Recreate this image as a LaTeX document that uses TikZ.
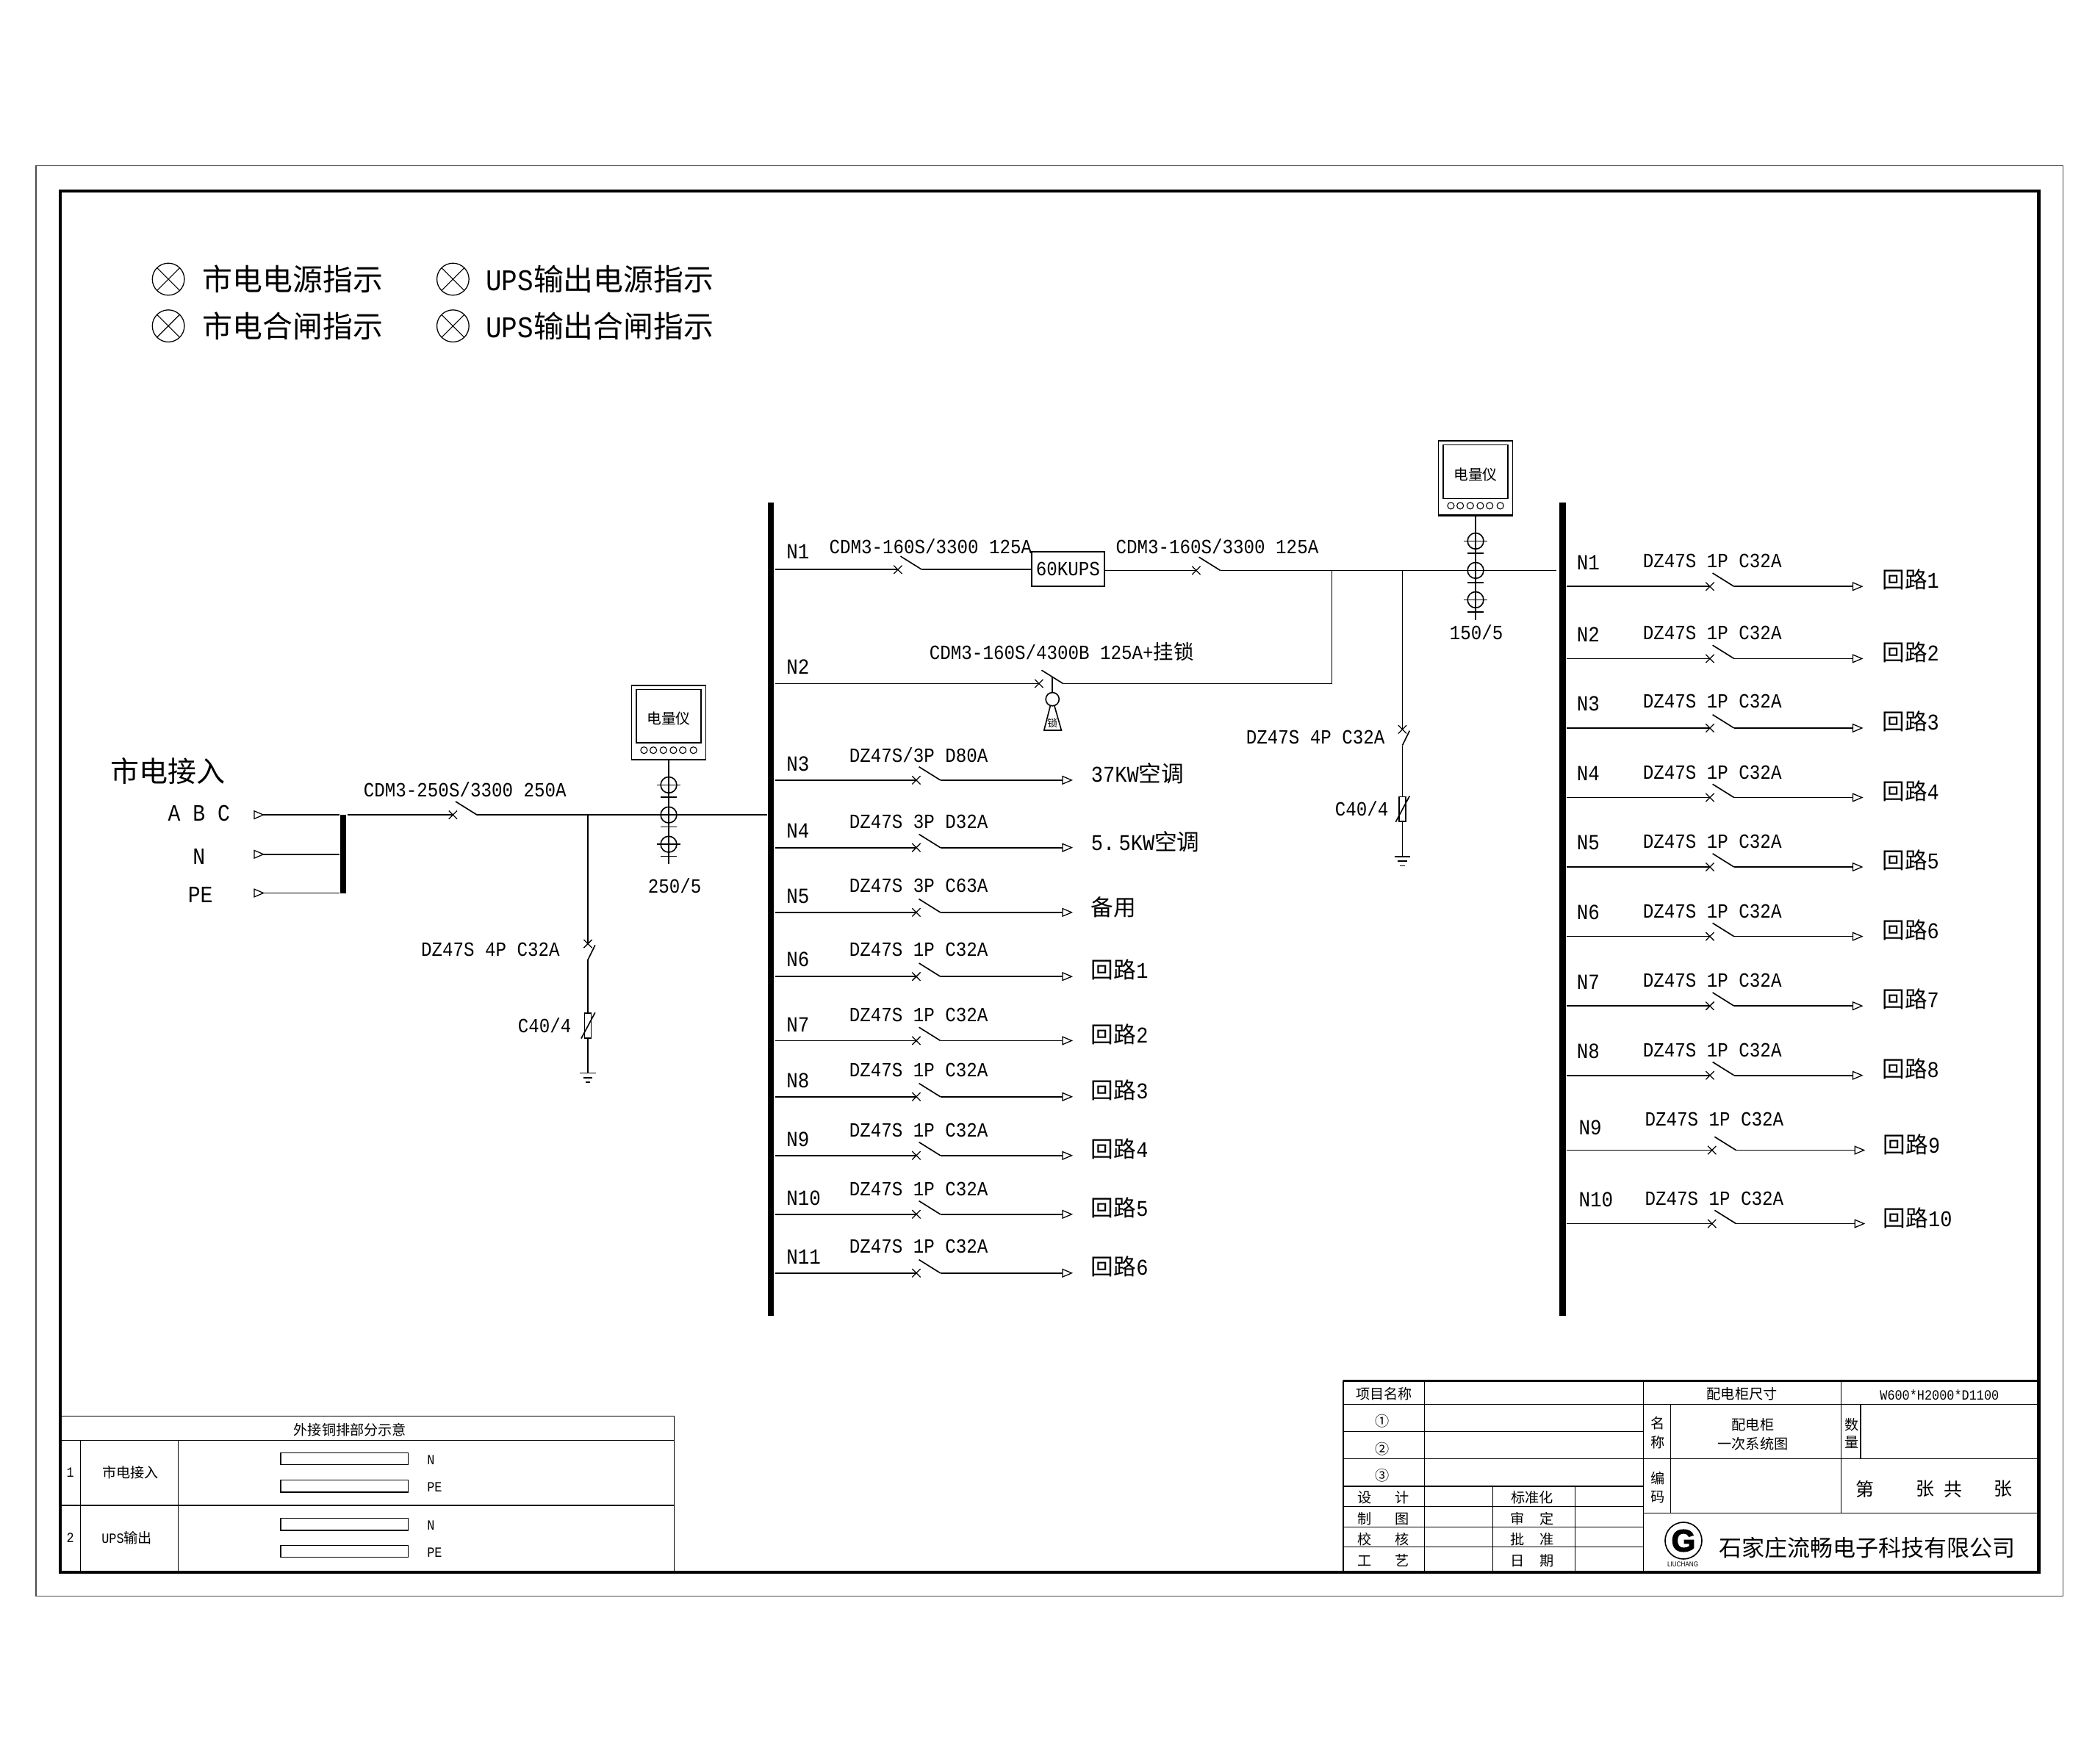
\documentclass[tikz,border=0pt]{standalone}
\usepackage{fontspec}
\usetikzlibrary{arrows.meta,calc,shapes.misc}
\newfontfamily\cjk{Noto Sans CJK SC}
\newfontfamily\cad[FakeStretch=0.88]{Liberation Mono}
\newfontfamily\logofont[BoldFeatures={FakeBold=3}]{Liberation Sans}
\newfontfamily\logosmall[FakeStretch=0.85]{Liberation Sans}

\tikzset{
  wire/.style={line width=0.09mm},
  frameline/.style={line width=0.08mm},
  brkmark/.style={cross out,draw,line width=0.07mm,minimum size=0.55mm,inner sep=0},
  busbar/.style={fill=black,inner sep=0,minimum width=0.45mm},
  feed/.style={wire,-{Triangle[fill=white,length=2.3pt,width=1.9pt,line width=0.07mm]}},
  incoming/.style={wire,{Triangle[reversed,fill=white,length=2.3pt,width=1.9pt,line width=0.07mm]}-},
  spec/.style={anchor=west,xshift=-0.1mm,inner sep=0,font=\fontsize{4.3}{5}\cad},
  busno/.style={anchor=west,xshift=-0.1mm,inner sep=0,font=\fontsize{4.6}{5}\cad},
  outname/.style={anchor=west,xshift=-0.1mm,inner sep=0,font=\fontsize{4.8}{5}\cad},
  legendtxt/.style={anchor=west,xshift=-0.1mm,inner sep=0,font=\fontsize{6.4}{7}\cad},
  lamp/.style={circle,draw,line width=0.07mm,inner sep=0,minimum size=2.4mm,
    path picture={\draw[line width=0.06mm] (path picture bounding box.north west) -- (path picture bounding box.south east)
      (path picture bounding box.north east) -- (path picture bounding box.south west);}},
  tbltxt/.style={inner sep=0,yshift=-0.1mm,font=\fontsize{3}{4}\cad},
}

% switch: cross, blade, coordinate at the end of the blade
\newcommand{\qf}[3]{
  \node[brkmark] (#1) at (#2,#3) {};
  \coordinate (#1e) at ($(#1.center)+(18,0)$);
  \draw[wire] (#1e) -- ++(-16,-10);
}
% meter with screen and six buttons
\newcommand{\mtr}[3]{
  \node[draw,wire,inner sep=0,minimum width=5.55mm,minimum height=5.55mm] (#1) at (#2,#3) {};
  \node[draw,wire,inner sep=0,minimum width=4.85mm,minimum height=4mm] (#1s) at (#2,#3-4.7) {};
  \node[inner sep=0,font=\fontsize{3.1}{4}\cjk] (#1t) at (#2,#3-2.7) {电量仪};
  \foreach \dx [count=\k] in {-18.5,-11.5,-4,3.5,10.5,18.5}
    \node[circle,draw,line width=0.06mm,inner sep=0,minimum size=0.5mm] (#1b\k) at (#2+\dx,#3+20.8) {};
}
% current transformer on the stem
\newcommand{\ctcoil}[3]{
  \node[circle,draw,wire,inner sep=0,minimum size=1.2mm] (#1) at (#2,#3) {};
  \draw[wire] (#2-9,#3) -- (#2+9,#3);
  \draw[wire] (#2-6,#3+9) -- (#2+6,#3+9);
}
% branch with breaker, surge arrester and earth
\newcommand{\spd}[5]{
  \coordinate (#1t) at (#2,#3);
  \node[brkmark] (#1q) at (#2,#4) {};
  \coordinate (#1b) at (#2,#4+12);
  \node[draw,wire,inner sep=0,minimum width=0.5mm,minimum height=1.85mm] (#1r) at (#2,#5) {};
  \coordinate (#1g) at (#2,#5+35.5);
  \draw[wire] (#1t) -- (#1q.center);
  \draw[wire] (#1b) -- ++(5.4,-11);
  \draw[wire] (#1b) -- (#1r.north);
  \draw[wire] (#1r.south) -- (#1g);
  \draw[wire] ($(#1r.north)+(5.4,0)$) -- ($(#1r.south)+(-5,0)$);
  \draw[wire] ($(#1g)+(-6,0)$) -- ($(#1g)+(6,0)$);
  \draw[wire] ($(#1g)+(-3.5,3.5)$) -- ($(#1g)+(3.5,3.5)$);
  \draw[wire] ($(#1g)+(-1.8,7)$) -- ($(#1g)+(1.8,7)$);
}
\newcommand{\hl}[1]{{\cjk 回路}#1}

\begin{document}
\begin{tikzpicture}[x=0.1mm,y=-0.1mm]
  \useasboundingbox (0,0) rectangle (1568,1320.5);

  % frames
  \draw[black!70,line width=0.07mm] (27,124) rectangle (1544,1195);
  \draw[line width=0.25mm] (45,143) rectangle (1526,1177);

  % lamps
  \node[lamp] (lampa) at (126,209) {};
  \node[lamp] (lampb) at (126,244) {};
  \node[lamp] (lampc) at (339,209) {};
  \node[lamp] (lampd) at (339,244) {};
  \node[legendtxt] (txta) at (152,209) {{\cjk 市电电源指示}};
  \node[legendtxt] (txtb) at (152,244) {{\cjk 市电合闸指示}};
  \node[legendtxt] (txtc) at (364,209) {UPS{\cjk 输出电源指示}};
  \node[legendtxt] (txtd) at (364,244) {UPS{\cjk 输出合闸指示}};

  % busbars
  \node[busbar,minimum height=60.9mm] (busL) at (577,680.5) {};
  \node[busbar,minimum height=60.9mm] (busR) at (1169.5,680.5) {};
  \node[busbar,minimum height=5.9mm] (barIn) at (257,639.5) {};

  % incoming side
  \node[anchor=west,inner sep=0,font=\fontsize{6.1}{7}\cjk] (labIn) at (82,577) {市电接入};
  \node[busno,anchor=center,xshift=0.1mm,font=\fontsize{5}{6}\cad] (labA) at (149,609) {A B C};
  \node[busno,anchor=center,xshift=0.1mm,font=\fontsize{5}{6}\cad] (labN) at (149,641) {N};
  \node[busno,anchor=center,xshift=0.1mm,font=\fontsize{5}{6}\cad] (labPE) at (150,670) {PE};
  \coordinate (inA) at (190,610);
  \coordinate (inN) at (190,639.5);
  \coordinate (inPE) at (190,668.5);
  \draw[incoming] (inA) -- (barIn.west |- inA);
  \draw[incoming] (inN) -- (barIn.west |- inN);
  \draw[incoming] (inPE) -- (barIn.west |- inPE);

  \qf{qmain}{339}{610}
  \node[spec] (labMain) at (272.5,591) {CDM3-250S/3300 250A};
  \draw[wire] (barIn.east |- qmain) -- (qmain.center);
  \draw[wire] (qmaine) -- (busL.west |- qmaine);

  \spd{spa}{440}{610}{706.5}{767.7}
  \node[spec] (labSpa) at (315.5,711) {DZ47S 4P C32A};
  \node[spec] (labSpb) at (388,767.5) {C40/4};

  \mtr{mtrA}{500.5}{540.8}
  \coordinate (stemA) at (500.5,646.6);
  \draw[wire] (mtrA.south) -- (stemA);
  \ctcoil{ctAa}{500.5}{587.6}
  \ctcoil{ctAb}{500.5}{610}
  \ctcoil{ctAc}{500.5}{632}
  \node[spec,anchor=center,xshift=0.1mm] (labCtA) at (505,663) {250/5};

  % N1 / N2 of the left bus
  \node[busno] (labL1) at (589,413) {N1};
  \node[busno] (labL2) at (589,499) {N2};
  \qf{qa}{672}{426.4}
  \node[draw,wire,inner sep=0,minimum width=5.46mm,minimum height=2.6mm,font=\fontsize{4.3}{5}\cad] (ups) at (799.3,426) {60KUPS};
  \qf{qb}{895.3}{427}
  \coordinate (Rin) at (1165,427);
  \coordinate (tie) at (996.8,427);
  \qf{qc}{777.6}{511.7}
  \node[spec] (labQa) at (621,409) {CDM3-160S/3300 125A};
  \node[spec] (labQb) at (835.5,409) {CDM3-160S/3300 125A};
  \node[spec] (labQc) at (696,488) {CDM3-160S/4300B 125A+{\cjk 挂锁}};
  \draw[wire] (busL.east |- qa) -- (qa.center);
  \draw[wire] (qae) -- (ups.west |- qae);
  \draw[wire] (ups.east |- qb) -- (qb.center);
  \draw[wire] (qbe) -- (Rin);
  \draw[wire] (tie) |- (qce);
  \draw[wire] (busL.east |- qc) -- (qc.center);

  % key lock
  \node[circle,draw,wire,inner sep=0,minimum size=1mm] (lockball) at (787.7,523.4) {};
  \coordinate (lockrod) at (787.7,507);
  \draw[wire] (lockrod) -- (lockball.north);
  \draw[wire] (786.1,528.4) -- (781.4,546.7) -- (794.4,546.7) -- (789.2,528.4);
  \node[inner sep=0,font=\fontsize{2.2}{3}\cjk] (labLock) at (787.7,541.5) {锁};

  % arrester and meter of the ups side
  \spd{spb}{1049.6}{427}{546}{605.6}
  \node[spec] (labSpc) at (933,552) {DZ47S 4P C32A};
  \node[spec] (labSpd) at (999.5,605.6) {C40/4};
  \mtr{mtrB}{1104.4}{357.8}
  \draw[line width=0.16mm] (mtrB.south west) -- (mtrB.south east);
  \coordinate (stemB) at (1104.4,464);
  \draw[wire] (mtrB.south) -- (stemB);
  \ctcoil{ctBa}{1104.4}{405}
  \ctcoil{ctBb}{1104.4}{427}
  \ctcoil{ctBc}{1104.4}{449}
  \node[spec,anchor=center,xshift=0.1mm] (labCtB) at (1105,473.6) {150/5};

  % feeders of the left bus
  \foreach \nm/\ylab/\yspec/\yline/\yout/\txt/\out in {
    N3/572/565/584/579/{DZ47S/3P D80A}/{37KW{\cjk 空调}},
    N4/622/615/634.5/630/{DZ47S 3P D32A}/{5. \kern-0.53em 5KW{\cjk 空调}},
    N5/671/663/683/679/{DZ47S 3P C63A}/{{\cjk 备用}},
    N6/718/711/731/726/{DZ47S 1P C32A}/{\hl{1}},
    N7/767/760/779/774/{DZ47S 1P C32A}/{\hl{2}},
    N8/809/801/821/816/{DZ47S 1P C32A}/{\hl{3}},
    N9/853/846/865/860/{DZ47S 1P C32A}/{\hl{4}},
    N10/897/890/909/904/{DZ47S 1P C32A}/{\hl{5}},
    N11/941/933/953/948/{DZ47S 1P C32A}/{\hl{6}}}{
    \node[busno] (Lno\nm) at (589,\ylab) {\nm};
    \node[spec] (Lspec\nm) at (636,\yspec) {\txt};
    \node[outname] (Lout\nm) at (817,\yout) {\out};
    \qf{Lq\nm}{685.8}{\yline}
    \coordinate (Lend\nm) at (803,\yline);
    \draw[wire] (busL.east |- Lq\nm) -- (Lq\nm.center);
    \draw[feed] (Lq\nm e) -- (Lend\nm);
  }

  % feeders of the right bus
  \foreach \nm/\ylab/\yspec/\yline/\yout/\dx/\num in {
    N1/421/420/439/434/0/1,
    N2/475/474/493/488/0/2,
    N3/527/525/545/540/0/3,
    N4/579/578/597/592/0/4,
    N5/631/630/649/644/0/5,
    N6/683/682/701/696/0/6,
    N7/735/734/753/748/0/7,
    N8/787/786/805/800/0/8,
    N9/844/838/861/857/1.5/9,
    N10/898/897/916/912/1.5/10}{
    \node[busno] (Rno\nm) at (1180.5+\dx,\ylab) {\nm};
    \node[spec] (Rspec\nm) at (1230+\dx,\yspec) {DZ47S 1P C32A};
    \node[outname] (Rout\nm) at (1409+\dx/2,\yout) {\hl{\num}};
    \qf{Rq\nm}{1279.8+\dx}{\yline}
    \coordinate (Rend\nm) at (1394.5+\dx,\yline);
    \draw[wire] (busR.east |- Rq\nm) -- (Rq\nm.center);
    \draw[feed] (Rq\nm e) -- (Rend\nm);
  }

  % copper bar table
  \draw[frameline] (45,1060) -- (504.7,1060) -- (504.7,1177);
  \draw[frameline] (45,1078.2) -- (504.7,1078.2);
  \draw[frameline] (45,1127) -- (504.7,1127);
  \draw[frameline] (60.2,1078.2) -- (60.2,1177);
  \draw[frameline] (133.4,1078.2) -- (133.4,1177);
  \foreach \yy/\lab [count=\i] in {1092/N,1112.4/PE,1141/N,1161.3/PE}{
    \draw[frameline] (210,\yy-4.5) rectangle (305.5,\yy+4.5);
    \node[tbltxt,anchor=west] (bar\i) at (319,\yy) {\lab};
  }
  \node[tbltxt] (tabHead) at (262,1069.4) {{\cjk 外接铜排部分示意}};
  \node[tbltxt] (tabNa) at (52.6,1101.5) {1};
  \node[tbltxt] (tabNb) at (52.6,1150.4) {2};
  \node[tbltxt] (tabTa) at (97.7,1101.5) {{\cjk 市电接入}};
  \node[tbltxt] (tabTb) at (95,1150.4) {UPS{\cjk 输出}};

  % title block
  \draw[line width=0.16mm] (1005.4,1033.5) -- (1526,1033.5);
  \draw[frameline] (1005.4,1033.5) -- (1005.4,1177);
  \foreach \xx in {1066.2,1230}
    \draw[frameline] (\xx,1033.5) -- (\xx,1177);
  \foreach \xx in {1117.4,1179}
    \draw[frameline] (\xx,1112.5) -- (\xx,1177);
  \foreach \yy in {1071.6,1112.5,1127.7,1143,1158}
    \draw[frameline] (1005.4,\yy) -- (1230,\yy);
  \foreach \yy in {1051.2,1092}
    \draw[frameline] (1005.4,\yy) -- (1526,\yy);
  \draw[frameline] (1230,1132.6) -- (1526,1132.6);
  \draw[frameline] (1250.5,1051.2) -- (1250.5,1132.6);
  \draw[frameline] (1378,1033.5) -- (1378,1132.6);
  \draw[frameline] (1392.5,1051.2) -- (1392.5,1092);
  \foreach \px/\py/\txt [count=\i] in {
    1035.8/1042.2/项目名称, 1303.8/1042.6/配电柜尺寸,
    1034.7/1062.8/①, 1034.7/1083.5/②, 1034.7/1103.7/③,
    1240.8/1064.2/名, 1240.8/1078.5/称,
    1312/1065.5/配电柜, 1312/1079.8/一次系统图,
    1386/1065.7/数, 1386/1078.5/量,
    1240.8/1105.5/编, 1240.8/1119.6/码,
    1021.5/1120/设, 1049.4/1120/计,
    1021.5/1136/制, 1049.4/1136/图,
    1021.5/1151.3/校, 1049.4/1151.3/核,
    1021.5/1167.3/工, 1049.4/1167.3/艺,
    1146.7/1120/标准化,
    1136/1136/审, 1157.5/1136/定,
    1136/1151.3/批, 1157.5/1151.3/准,
    1136/1167.3/日, 1157.5/1167.3/期}{
    \node[inner sep=0,yshift=-0.1mm,font=\fontsize{3}{4}\cjk] (tb\i) at (\px,\py) {\txt};
  }
  \foreach \px/\txt [count=\i] in {1396/第,1440.8/张,1462/共,1499/张}
    \node[inner sep=0,yshift=-0.1mm,font=\fontsize{3.9}{5}\cjk] (pg\i) at (\px,1113.7) {\txt};
  \node[tbltxt] (tbSize) at (1451.6,1043) {W600*H2000*D1100};

  % logo
  \node[circle,draw,wire,inner sep=0,minimum size=2.75mm] (logoRing) at (1260,1153.3) {};
  \node[inner sep=0,font=\fontsize{6.6}{8}\logofont\bfseries] (logoG) at (1260,1153.3) {G};
  \node[inner sep=0,font=\fontsize{1.5}{2}\logosmall] (logoTxt) at (1259.5,1171) {LIUCHANG};
  \node[anchor=west,inner sep=0,yshift=-0.1mm,font=\fontsize{4.85}{6}\cjk] (company) at (1286,1157.7) {石家庄流畅电子科技有限公司};
\end{tikzpicture}
\end{document}
